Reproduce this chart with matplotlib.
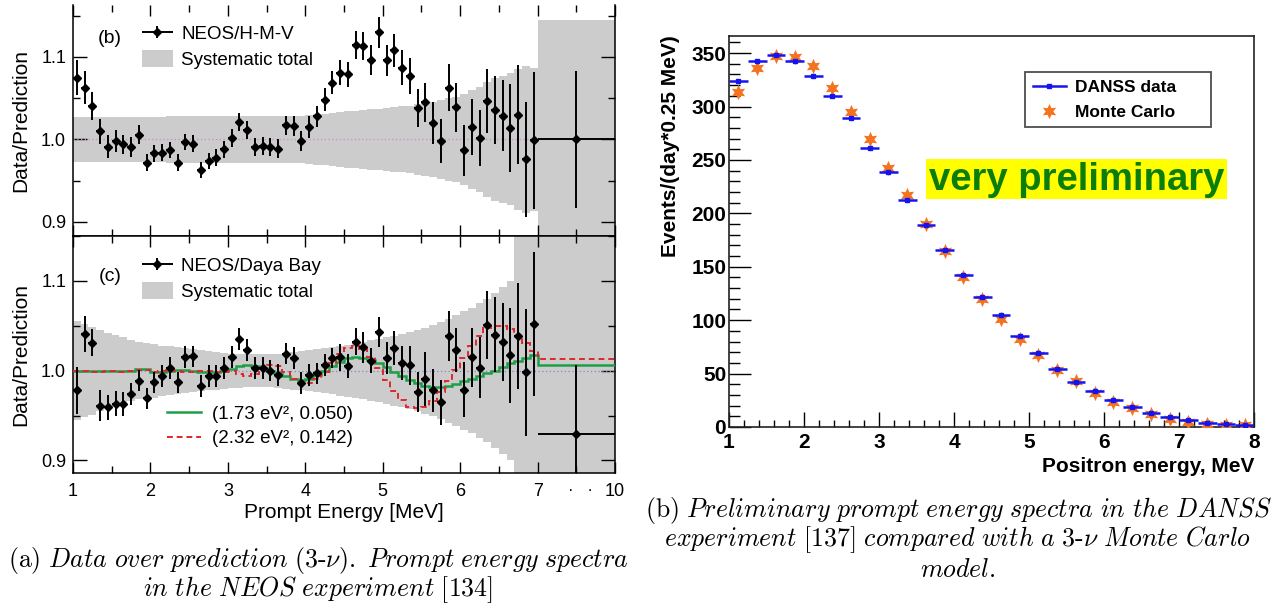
import numpy as np
import matplotlib
matplotlib.use("Agg")
import matplotlib.pyplot as plt
from matplotlib.patches import Patch, Rectangle
from matplotlib.lines import Line2D
from matplotlib.legend_handler import HandlerErrorbar

plt.rcParams['font.family'] = ['Liberation Sans', 'DejaVu Sans']
plt.rcParams['mathtext.fontset'] = 'cm'

# ------------------------------------------------------------------ data
# NEOS binning: 60 bins of 0.1 MeV from 1 to 7 MeV plus one 7-10 MeV bin
neos_edges = [round(1.0 + 0.1 * i, 1) for i in range(61)] + [10.0]

# (b) NEOS / H-M-V ratio
hmv_ratio = [1.075, 1.063, 1.041, 1.010, 0.991, 0.998, 0.994, 0.991, 1.006, 0.972,
             0.983, 0.984, 0.987, 0.972, 0.997, 0.995, 0.963, 0.974, 0.978, 0.988,
             1.002, 1.021, 1.011, 0.991, 0.992, 0.991, 0.989, 1.017, 1.016, 0.998,
             1.015, 1.028, 1.048, 1.069, 1.081, 1.079, 1.115, 1.113, 1.096, 1.130,
             1.096, 1.108, 1.087, 1.077, 1.038, 1.045, 1.020, 0.998, 1.063, 1.039,
             0.987, 1.015, 1.002, 1.047, 1.036, 1.029, 1.014, 1.030, 0.976, 0.999,
             1.000]
hmv_err = [0.021, 0.020, 0.017, 0.015, 0.014, 0.013, 0.012, 0.012, 0.011, 0.010,
           0.010, 0.010, 0.010, 0.010, 0.010, 0.010, 0.010, 0.010, 0.010, 0.010,
           0.011, 0.011, 0.011, 0.011, 0.011, 0.011, 0.012, 0.012, 0.012, 0.012,
           0.013, 0.013, 0.014, 0.014, 0.015, 0.015, 0.017, 0.017, 0.018, 0.019,
           0.019, 0.020, 0.021, 0.022, 0.023, 0.024, 0.025, 0.027, 0.028, 0.030,
           0.031, 0.034, 0.034, 0.039, 0.041, 0.043, 0.053, 0.060, 0.070, 0.083,
           0.083]
hmv_sys = [0.027, 0.027, 0.027, 0.027, 0.027, 0.027, 0.027, 0.027, 0.027, 0.027,
           0.027, 0.027, 0.028, 0.028, 0.028, 0.028, 0.028, 0.028, 0.028, 0.028,
           0.029, 0.029, 0.029, 0.029, 0.029, 0.029, 0.029, 0.029, 0.029, 0.029,
           0.030, 0.031, 0.031, 0.032, 0.033, 0.034, 0.035, 0.036, 0.037, 0.037,
           0.038, 0.039, 0.040, 0.041, 0.043, 0.044, 0.046, 0.048, 0.050, 0.052,
           0.055, 0.060, 0.064, 0.070, 0.074, 0.077, 0.080, 0.085, 0.089, 0.087,
           0.145]

# (c) NEOS / Daya Bay ratio
dyb_ratio = [0.978, 1.041, 1.031, 0.961, 0.959, 0.963, 0.963, 0.974, 0.989, 0.969,
             0.987, 0.994, 1.003, 0.987, 1.015, 1.016, 0.983, 0.994, 0.994, 1.003,
             1.015, 1.035, 1.023, 1.003, 1.003, 1.000, 0.995, 1.019, 1.014, 0.986,
             0.995, 0.997, 1.006, 1.014, 1.015, 1.005, 1.032, 1.026, 1.011, 1.043,
             1.014, 1.025, 1.009, 1.006, 0.976, 0.991, 0.978, 0.965, 1.039, 1.023,
             0.979, 1.015, 1.003, 1.051, 1.040, 1.032, 1.017, 1.039, 0.998, 1.052,
             0.929]
dyb_err = [0.026, 0.020, 0.015, 0.017, 0.014, 0.014, 0.013, 0.0125, 0.012, 0.012,
           0.012, 0.012, 0.012, 0.012, 0.012, 0.012, 0.012, 0.012, 0.012, 0.012,
           0.012, 0.012, 0.012, 0.012, 0.012, 0.012, 0.012, 0.012, 0.012, 0.012,
           0.012, 0.012, 0.012, 0.011, 0.015, 0.013, 0.015, 0.017, 0.014, 0.017,
           0.018, 0.019, 0.019, 0.022, 0.022, 0.030, 0.024, 0.025, 0.028, 0.024,
           0.031, 0.033, 0.034, 0.038, 0.042, 0.043, 0.053, 0.059, 0.071, 0.080,
           0.077]
dyb_sys = [0.055, 0.052, 0.049, 0.045, 0.042, 0.040, 0.037, 0.034, 0.032, 0.031,
           0.030, 0.028, 0.027, 0.026, 0.025, 0.024, 0.023, 0.022, 0.021, 0.020,
           0.019, 0.019, 0.018, 0.018, 0.018, 0.018, 0.019, 0.020, 0.021, 0.022,
           0.023, 0.024, 0.025, 0.026, 0.028, 0.029, 0.031, 0.032, 0.034, 0.035,
           0.037, 0.039, 0.041, 0.043, 0.045, 0.048, 0.051, 0.054, 0.058, 0.062,
           0.066, 0.070, 0.075, 0.080, 0.086, 0.093, 0.100, 0.200, 0.200, 0.200,
           0.200]
osc_green = [1.000, 1.000, 1.000, 1.000, 1.000, 1.000, 1.000, 1.000, 1.002, 1.002,
             0.999, 0.999, 1.000, 1.001, 1.001, 1.000, 0.999, 0.999, 0.999, 1.000,
             1.002, 1.005, 1.006, 1.005, 1.003, 1.000, 0.997, 0.994, 0.991, 0.990,
             0.991, 0.995, 1.000, 1.005, 1.010, 1.014, 1.015, 1.014, 1.012, 1.009,
             1.004, 0.999, 0.994, 0.990, 0.986, 0.983, 0.982, 0.982, 0.983, 0.985,
             0.988, 0.991, 0.994, 0.997, 1.000, 1.004, 1.008, 1.011, 1.014, 1.017,
             1.006]
osc_red = [1.000, 1.000, 0.999, 0.999, 1.000, 1.000, 0.999, 1.000, 1.001, 1.001,
           0.999, 1.000, 1.001, 1.000, 0.999, 0.999, 1.000, 1.000, 0.999, 0.999,
           1.000, 0.996, 0.994, 0.996, 1.003, 1.006, 1.005, 0.998, 0.991, 0.986,
           0.986, 0.991, 0.998, 1.008, 1.018, 1.025, 1.027, 1.024, 1.015, 1.003,
           0.990, 0.977, 0.967, 0.960, 0.958, 0.960, 0.966, 0.976, 0.988, 1.001,
           1.014, 1.027, 1.039, 1.047, 1.050, 1.050, 1.046, 1.040, 1.031, 1.022,
           1.013]

neos_xticks = [1, 2, 3, 4, 5, 6, 7, 10]
neos_xticklabels = ['1', '2', '3', '4', '5', '6', '7', '10']
ratio_yticks = [0.9, 1.0, 1.1]
ratio_yticklabels = ['0.9', '1.0', '1.1']

# DANSS: 0.25 MeV bins from 1 to 8 MeV
danss_centers = [1.125 + 0.25 * i for i in range(28)]
danss_data = [323.5, 342.8, 348.0, 343.0, 328.5, 310.0, 288.8, 261.6, 239.1, 212.6,
              188.9, 165.5, 142.7, 122.0, 104.6, 85.2, 69.6, 54.6, 42.4, 33.7,
              25.0, 18.4, 13.4, 9.4, 6.2, 4.1, 2.8, 1.9]
danss_mc = [314.0, 336.0, 347.5, 346.0, 337.5, 317.0, 294.7, 269.7, 242.9, 216.7,
            189.8, 164.8, 140.8, 119.9, 101.2, 82.7, 67.1, 53.4, 43.1, 31.6,
            23.7, 17.5, 11.9, 7.5, 5.0, 2.8, 1.9, 1.5]

caption_a = ["(a) Data over prediction (3-ν). Prompt energy spectra",
             "in the NEOS experiment [134]"]
caption_b = ["(b) Preliminary prompt energy spectra in the DANSS",
             "experiment [137] compared with a 3-ν Monte Carlo",
             "model."]

# ------------------------------------------------------------------ helpers
W, H = 1277, 614
fig = plt.figure(figsize=(W / 100, H / 100), dpi=100)


def frac(x0, y0, x1, y1):
    return [x0 / W, 1 - y1 / H, (x1 - x0) / W, (y1 - y0) / H]


def fwd(x):
    x = np.asarray(x, float)
    return np.where(x <= 7, x, 7 + (x - 7) / 3.0)


def inv(y):
    y = np.asarray(y, float)
    return np.where(y <= 7, y, 7 + (y - 7) * 3.0)


def to_math(s, roman_head):
    """Render caption text as CM italic (leading label in roman)."""
    out = []
    rest = s
    if roman_head:
        head, rest = s.split(' ', 1)
        out.append(r'\mathrm{%s}\ ' % head)
    word = ''
    for ch in rest:
        if ch.isalpha() and ch != 'ν':
            word += ch
            continue
        if word:
            out.append(r'\mathit{%s}' % word)
            word = ''
        if ch == ' ':
            out.append(r'\ ')
        elif ch == 'ν':
            out.append(r'\nu')
        elif ch == '-':
            out.append(r'\text{-}')
        else:
            out.append(r'\mathrm{%s}' % ch)
    if word:
        out.append(r'\mathit{%s}' % word)
    return '$' + ''.join(out) + '$'


edges = np.array(neos_edges)
centers = 0.5 * (edges[:-1] + edges[1:])
xerr = 0.5 * (edges[1:] - edges[:-1])
GRAY = '#cccccc'

axT = fig.add_axes(frac(73, 5, 615, 236))
axB = fig.add_axes(frac(73, 236, 615, 473))

for ax, ratio, err, sys, ylim, dotcol in (
        (axT, hmv_ratio, hmv_err, hmv_sys, (0.883, 1.163), '#c98bc9'),
        (axB, dyb_ratio, dyb_err, dyb_sys, (0.886, 1.115), '#8585c8')):
    ax.set_xscale('function', functions=(fwd, inv))
    ax.set_xlim(1, 10)
    ax.set_ylim(*ylim)
    sys = np.array(sys)
    ax.stairs(1 + sys, edges, baseline=1 - sys, fill=True, color=GRAY,
              lw=0, zorder=1)
    ax.axhline(1.0, ls=(0, (1, 2)), color=dotcol, lw=0.9, zorder=2)
    ax.set_xticks(neos_xticks)
    ax.set_xticks([1.5, 2.5, 3.5, 4.5, 5.5, 6.5, 8.5], minor=True)
    ax.set_yticks(ratio_yticks)
    ax.set_yticklabels(ratio_yticklabels)
    ax.set_yticks([0.95, 1.05, 1.15], minor=True)
    ax.tick_params(which='both', direction='in', top=True, right=True,
                   labelsize=13, width=1.0, colors='black')
    ax.tick_params(which='major', length=10, pad=5)
    ax.tick_params(which='minor', length=5)
    ax.tick_params(axis='x', which='major', length=8)
    for sp in ax.spines.values():
        sp.set_linewidth(1.1)
    ax.set_ylabel('Data/Prediction', fontsize=15)
    ax.yaxis.set_label_coords(-0.079, 0.5)

axT.spines['top'].set_visible(False)
axT.tick_params(axis='x', labelbottom=False)

MS = 3.8
ebT = axT.errorbar(centers, hmv_ratio, yerr=hmv_err, xerr=xerr, fmt='D',
                   ms=MS, color='black', lw=1.4, capsize=0, zorder=5)

axB.stairs(osc_green, edges, baseline=None, color='#1f9e48', lw=1.8, zorder=3)
axB.stairs(osc_red, edges, baseline=None, color='#e0262c', lw=1.4,
           ls=(0, (3, 2)), zorder=4)
ebB = axB.errorbar(centers, dyb_ratio, yerr=dyb_err, xerr=xerr, fmt='D',
                   ms=MS, color='black', lw=1.4, capsize=0, zorder=5)

axB.set_xticklabels(neos_xticklabels)
axB.tick_params(axis='x', pad=7)
axB.text(8.65, -0.075, '·   ·', transform=axB.get_xaxis_transform(),
         ha='center', va='center', fontsize=12)
axB.set_xlabel('Prompt Energy [MeV]', fontsize=15)
axB.xaxis.set_label_coords(0.5, -0.128)

hmap = {type(ebT): HandlerErrorbar(xerr_size=0.82, yerr_size=0.32)}
legT = axT.legend([ebT, Patch(color=GRAY, lw=0)],
                  ['NEOS/H-M-V', 'Systematic total'],
                  loc='upper left', bbox_to_anchor=(0.127, 0.915),
                  borderaxespad=0, borderpad=0, frameon=False, fontsize=13.5,
                  handlelength=1.65, handleheight=1.0, handletextpad=0.45,
                  labelspacing=0.35, handler_map=hmap)
legB = axB.legend([ebB, Patch(color=GRAY, lw=0)],
                  ['NEOS/Daya Bay', 'Systematic total'],
                  loc='upper left', bbox_to_anchor=(0.127, 0.913),
                  borderaxespad=0, borderpad=0, frameon=False, fontsize=13.5,
                  handlelength=1.65, handleheight=1.0, handletextpad=0.45,
                  labelspacing=0.35, handler_map=hmap)
axB.add_artist(legB)
axB.legend([Line2D([], [], color='#1f9e48', lw=1.8),
            Line2D([], [], color='#e0262c', lw=1.4, ls=(0, (3, 2)))],
           ['(1.73 eV², 0.050)', '(2.32 eV², 0.142)'],
           loc='upper left', bbox_to_anchor=(0.173, 0.285), borderaxespad=0,
           borderpad=0, frameon=False, fontsize=13.5, handlelength=1.8,
           handletextpad=0.6, labelspacing=0.4)

axT.text(0.068, 0.857, '(b)', transform=axT.transAxes, fontsize=14,
         ha='center', va='center')
axB.text(0.068, 0.83, '(c)', transform=axB.transAxes, fontsize=14,
         ha='center', va='center')

# ------------------------------------------------------------------ DANSS
axR = fig.add_axes(frac(729, 36, 1254, 427))
axR.set_xlim(1, 8)
axR.set_ylim(0, 366)
axR.plot(danss_centers, danss_mc, ls='none', marker=(6, 1, 0), ms=11,
         color='#f5731f', mew=0, zorder=3)
axR.errorbar(danss_centers, danss_data, xerr=0.125, fmt='s', ms=2.5,
             color='#1414f0', lw=1.8, capsize=0, zorder=4)
axR.set_xticks(range(1, 9))
axR.set_xticks(np.arange(1, 8.01, 0.2), minor=True)
axR.set_yticks(range(0, 351, 50))
axR.set_yticks(range(0, 361, 10), minor=True)
axR.tick_params(which='both', direction='in', labelsize=15, width=1.0)
axR.tick_params(axis='x', which='major', length=11, pad=4)
axR.tick_params(axis='x', which='minor', length=5)
axR.tick_params(axis='y', which='major', length=16, pad=2)
axR.tick_params(axis='y', which='minor', length=8)
for lab in axR.get_xticklabels() + axR.get_yticklabels():
    lab.set_fontweight('bold')
for sp in axR.spines.values():
    sp.set_linewidth(1.2)
    sp.set_color('#222222')

axR.add_patch(Rectangle((0.375, 0.583), 0.5736, 0.102, transform=axR.transAxes,
                        facecolor='#ffff00', edgecolor='none', zorder=5))
axR.text(0.6618, 0.632, 'very preliminary', transform=axR.transAxes,
         ha='center', va='center', fontsize=27.5, fontweight='bold',
         color='#0a7d0a', zorder=6)

legR = axR.legend([Line2D([], [], color='#1414f0', lw=1.8, marker='s', ms=2.5),
                   Line2D([], [], ls='none', marker=(6, 1, 0), ms=11,
                          color='#f5731f', mew=0)],
                  ['DANSS data', 'Monte Carlo'],
                  loc='upper left', bbox_to_anchor=(0.564, 0.767, 0.354, 0.141),
                  mode='expand', borderaxespad=0, fancybox=False,
                  prop={'weight': 'bold', 'size': 12.5}, handlelength=1.9,
                  handletextpad=0.5, labelspacing=0.55, borderpad=0.45)
legR.get_frame().set_edgecolor('#222222')
legR.get_frame().set_linewidth(1.3)

fig.text(670 / W, 1 - 35 / H, 'Events/(day*0.25 MeV)', rotation=90,
         ha='center', va='top', fontsize=15, fontweight='bold')
fig.text(1254 / W, 1 - 467 / H, 'Positron energy, MeV', ha='right',
         va='center', fontsize=15, fontweight='bold')

# ------------------------------------------------------------------ captions
for i, line in enumerate(caption_a):
    fig.text(318 / W, 1 - (561 + 29 * i) / H, to_math(line, i == 0),
             ha='center', va='center', fontsize=18.6)
for i, line in enumerate(caption_b):
    fig.text(958 / W, 1 - (510 + 30 * i) / H, to_math(line, i == 0),
             ha='center', va='center', fontsize=18.6)

fig.savefig('out.png', dpi=100)
